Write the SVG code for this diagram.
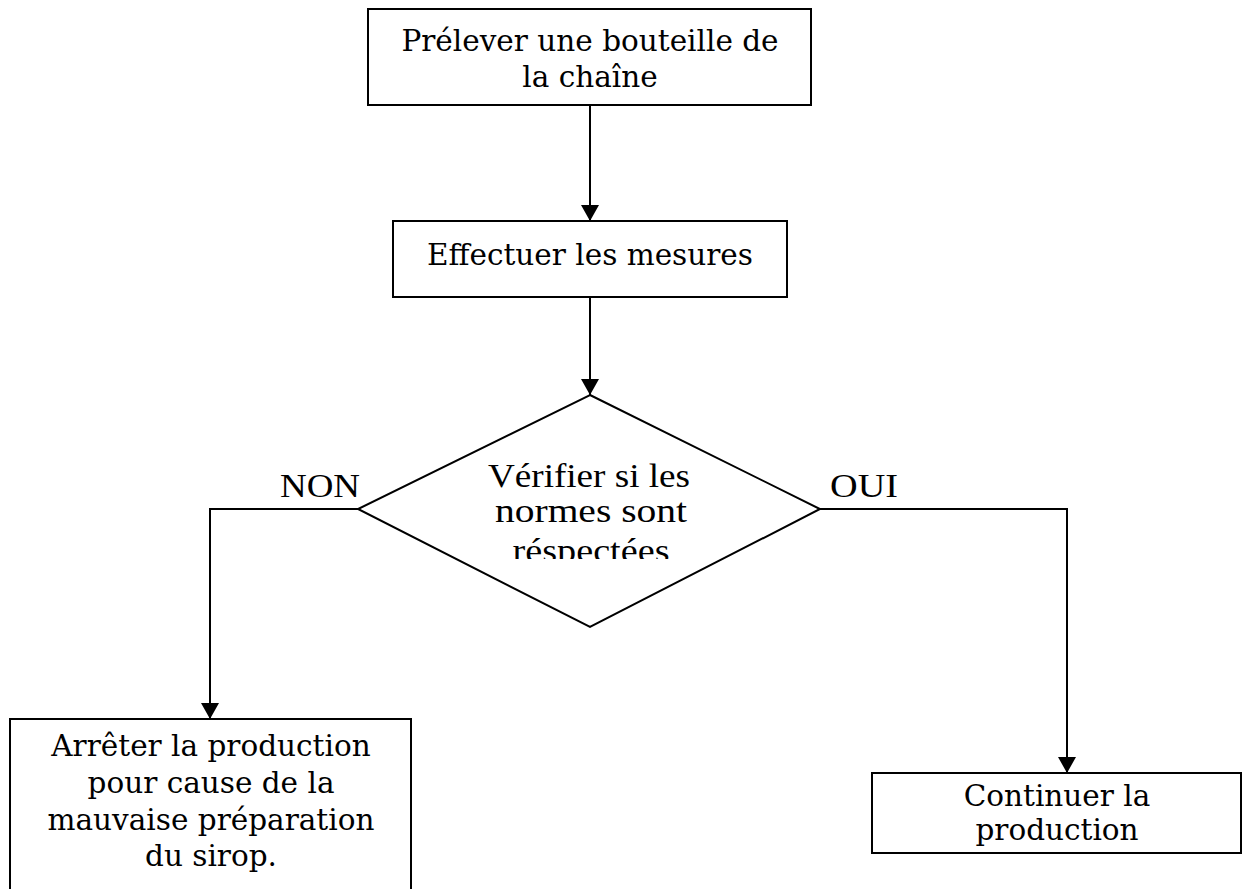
<svg xmlns="http://www.w3.org/2000/svg" width="1253" height="889" viewBox="0 0 1253 889">
<style>
.box{fill:#fff;stroke:#000;stroke-width:2}
.bk{font-family:"DejaVu Serif",serif;font-size:29.5px;fill:#000;text-anchor:middle}
.tm{font-family:"Liberation Serif",serif;font-size:33px;fill:#000;text-anchor:middle}
.ln{fill:none;stroke:#000;stroke-width:2}
</style>
<defs>
<marker id="ah" markerWidth="16" markerHeight="18" refX="16" refY="9" orient="auto" markerUnits="userSpaceOnUse">
<path d="M0,0 L16,9 L0,18 Z" fill="#000"/>
</marker>
<clipPath id="dc"><rect x="300" y="380" width="600" height="179"/></clipPath>
</defs>
<rect width="1253" height="889" fill="#fff"/>
<g id="connectors">
<line class="ln" x1="590" y1="105" x2="590" y2="221" marker-end="url(#ah)"/>
<line class="ln" x1="590" y1="297" x2="590" y2="395" marker-end="url(#ah)"/>
<polyline class="ln" points="358,509 210,509 210,719" marker-end="url(#ah)"/>
<polyline class="ln" points="820,509 1067,509 1067,773" marker-end="url(#ah)"/>
<text class="tm" x="320" y="497" textLength="80" lengthAdjust="spacingAndGlyphs">NON</text>
<text class="tm" x="864" y="497" textLength="68" lengthAdjust="spacingAndGlyphs">OUI</text>
</g>
<g id="n1">
<rect class="box" x="368" y="9" width="443" height="96"/>
<text class="bk" x="590" y="51">Prélever une bouteille de</text>
<text class="bk" x="590" y="87">la chaîne</text>
</g>
<g id="n2">
<rect class="box" x="393" y="221" width="394" height="76"/>
<text class="bk" x="590" y="265">Effectuer les mesures</text>
</g>
<g id="n3">
<polygon class="box" points="590,395 820,509 590,627 358,509"/>
<g clip-path="url(#dc)">
<text class="tm" x="589" y="487" textLength="202" lengthAdjust="spacingAndGlyphs">Vérifier si les</text>
<text class="tm" x="591" y="522" textLength="192" lengthAdjust="spacingAndGlyphs">normes sont</text>
<text class="tm" x="591" y="562" textLength="157" lengthAdjust="spacingAndGlyphs">réspectées</text>
</g>
</g>
<g id="n4">
<rect class="box" x="10" y="719" width="401" height="180"/>
<text class="bk" x="211" y="756">Arrêter la production</text>
<text class="bk" x="211" y="793">pour cause de la</text>
<text class="bk" x="211" y="830">mauvaise préparation</text>
<text class="bk" x="211" y="866">du sirop.</text>
</g>
<g id="n5">
<rect class="box" x="872" y="773" width="369" height="80"/>
<text class="bk" x="1057" y="806">Continuer la</text>
<text class="bk" x="1057" y="840">production</text>
</g>
</svg>
